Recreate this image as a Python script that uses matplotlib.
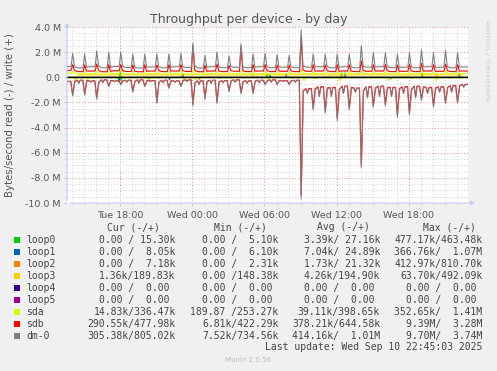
import matplotlib
matplotlib.use('Agg')
import matplotlib.pyplot as plt
from matplotlib.patches import Rectangle

# time axis in hours from Tue 00:00
T_START, T_END = 13.58, 46.92
HOURS = list(range(14, 47))
tick_pos = [18, 24, 30, 36, 42]
tick_lab = ['Tue 18:00', 'Wed 00:00', 'Wed 06:00', 'Wed 12:00', 'Wed 18:00']
ytick_pos = [4, 2, 0, -2, -4, -6, -8, -10]
ytick_lab = ['4.0 M', '2.0 M', '0.0', '-2.0 M', '-4.0 M', '-6.0 M', '-8.0 M', '-10.0 M']

# write side (MB/s), one spike a few minutes past each hour
dm0_w_peak = [1.9, 1.85, 2.1, 2.0, 2.0, 1.85, 1.85, 1.85, 1.85, 1.9, 2.7, 1.75, 2.0, 1.7, 2.65, 1.85, 1.9,
              1.8, 1.75, 3.75, 1.85, 1.85, 1.85, 1.85, 2.5, 1.95, 1.95, 1.85, 1.95, 2.2, 1.95, 2.15, 1.95]
dm0_w_a = [0.85, 0.8, 0.9, 0.78, 0.88, 0.82, 0.8, 0.86, 0.8, 0.84, 0.9, 0.78, 0.82, 0.86, 0.84, 0.78, 0.86,
           0.82, 0.85, 0.9, 0.8, 0.86, 0.78, 0.82, 0.88, 0.8, 0.86, 0.78, 0.84, 0.82, 0.78, 0.86, 0.82]
dm0_w_b = [0.75, 0.84, 0.76, 0.86, 0.78, 0.74, 0.82, 0.76, 0.84, 0.78, 0.74, 0.84, 0.76, 0.8, 0.76, 0.84, 0.76,
           0.8, 0.76, 0.8, 0.84, 0.76, 0.84, 0.76, 0.8, 0.84, 0.76, 0.8, 0.76, 0.84, 0.8, 0.76, 0.82]
sdb_w_peak = [1.0, 0.98, 1.05, 1.0, 1.02, 0.98, 1.0, 0.98, 1.0, 1.0, 2.5, 0.95, 1.05, 0.95, 2.4, 1.0, 1.02,
              0.98, 0.98, 3.28, 1.0, 0.98, 1.02, 1.0, 1.3, 1.0, 1.02, 0.98, 1.02, 1.1, 1.0, 1.05, 1.0]
sdb_w_a = [0.55, 0.5, 0.56, 0.48, 0.54, 0.5, 0.48, 0.55, 0.5, 0.52, 0.56, 0.48, 0.5, 0.54, 0.52, 0.48, 0.55,
           0.5, 0.52, 0.58, 0.5, 0.54, 0.48, 0.5, 0.55, 0.5, 0.54, 0.48, 0.52, 0.5, 0.48, 0.54, 0.5]
sdb_w_b = [0.45, 0.5, 0.44, 0.52, 0.46, 0.44, 0.5, 0.45, 0.5, 0.46, 0.44, 0.5, 0.45, 0.48, 0.45, 0.5, 0.45,
           0.48, 0.45, 0.48, 0.5, 0.45, 0.5, 0.45, 0.48, 0.5, 0.45, 0.48, 0.45, 0.5, 0.48, 0.45, 0.5]
sda_w_peak = [0.45, 0.42, 0.5, 0.44, 0.6, 0.42, 0.44, 0.42, 0.45, 0.48, 0.55, 0.42, 0.46, 0.4, 0.5, 0.44, 0.46,
              0.42, 0.44, 0.6, 0.44, 0.42, 0.5, 0.44, 0.48, 0.42, 0.46, 0.44, 0.45, 0.5, 0.42, 0.48, 0.44]
sda_w_a = [0.32, 0.3, 0.33, 0.29, 0.32, 0.3, 0.29, 0.32, 0.3, 0.31, 0.33, 0.29, 0.3, 0.32, 0.31, 0.29, 0.32,
           0.3, 0.31, 0.34, 0.3, 0.32, 0.29, 0.3, 0.32, 0.3, 0.32, 0.29, 0.31, 0.3, 0.29, 0.32, 0.3]
sda_w_b = [0.26, 0.28, 0.25, 0.29, 0.26, 0.25, 0.28, 0.26, 0.28, 0.26, 0.25, 0.28, 0.26, 0.27, 0.26, 0.28, 0.26,
           0.27, 0.26, 0.27, 0.28, 0.26, 0.28, 0.26, 0.27, 0.28, 0.26, 0.27, 0.26, 0.28, 0.27, 0.26, 0.28]
loop3_w = [0.19, 0.19, 0.18, 0.19, 0.2, 0.19, 0.19, 0.18, 0.19, 0.19, 0.2, 0.19, 0.19, 0.18, 0.19, 0.19, 0.2,
           0.19, 0.19, 0.21, 0.19, 0.18, 0.19, 0.19, 0.2, 0.19, 0.19, 0.18, 0.19, 0.19, 0.2, 0.19, 0.19]

# read side (negative)
dm0_r_dip = [-1.49, -1.41, -1.75, -0.75, -0.6, -1.2, -0.75, -2.07, -0.88, -0.75, -2.26, -1.75, -2.07, -1.15,
             -1.3, -1.3, -0.6, -0.6, -0.6, -9.7, -2.6, -2.87, -3.45, -2.6, -7.2, -2.4, -2.3, -3.2, -3.0,
             -1.86, -2.4, -2.1, -2.05]
dm0_r_a = [-0.35, -0.3, -0.4, -0.28, -0.3, -0.35, -0.3, -0.4, -0.3, -0.28, -0.45, -0.35, -0.4, -0.3, -0.35,
           -0.32, -0.3, -0.28, -0.3, -1.1, -0.95, -0.9, -1.0, -0.85, -1.1, -0.9, -0.85, -0.95, -1.0, -0.8,
           -0.9, -0.85, -0.7]
dm0_r_b = [-0.25, -0.3, -0.22, -0.3, -0.25, -0.22, -0.28, -0.25, -0.3, -0.22, -0.3, -0.25, -0.28, -0.22, -0.3,
           -0.25, -0.22, -0.28, -0.25, -0.95, -0.8, -0.85, -0.75, -0.9, -0.8, -0.75, -0.85, -0.8, -0.75,
           -0.85, -0.8, -0.7, -0.6]
dm0_r_x = [-0.5, -0.4, -0.45, -0.35, -0.4, -0.5, -0.35, -0.45, -0.4, -0.35, -0.6, -0.5, -0.45, -0.4, -0.5,
           -0.45, -0.4, -0.35, -0.4, -1.3, -1.55, -1.55, -1.3, -1.2, -1.65, -1.55, -1.55, -1.3, -1.65, -1.3,
           -1.2, -1.2, -0.8]
sdb_r_dip = [-1.4, -1.35, -1.65, -0.7, -0.55, -1.12, -0.7, -1.95, -0.82, -0.7, -2.15, -1.65, -1.95, -1.08,
             -1.22, -1.22, -0.55, -0.55, -0.55, -9.4, -2.45, -2.7, -3.25, -2.45, -7.0, -2.25, -2.15, -3.0,
             -2.85, -1.75, -2.25, -2.0, -1.95]
sdb_r_a = [-0.32, -0.27, -0.37, -0.26, -0.28, -0.32, -0.27, -0.37, -0.28, -0.26, -0.42, -0.32, -0.37, -0.28,
           -0.32, -0.3, -0.28, -0.26, -0.28, -1.05, -0.9, -0.85, -0.95, -0.8, -1.05, -0.85, -0.8, -0.9, -0.95,
           -0.75, -0.85, -0.8, -0.66]
sdb_r_b = [-0.23, -0.28, -0.2, -0.28, -0.23, -0.2, -0.26, -0.23, -0.28, -0.2, -0.28, -0.23, -0.26, -0.2,
           -0.28, -0.23, -0.2, -0.26, -0.23, -0.9, -0.75, -0.8, -0.7, -0.85, -0.75, -0.7, -0.8, -0.75, -0.7,
           -0.8, -0.75, -0.66, -0.56]
sdb_r_x = [-0.45, -0.37, -0.41, -0.32, -0.37, -0.45, -0.32, -0.41, -0.37, -0.32, -0.55, -0.45, -0.41, -0.37,
           -0.45, -0.41, -0.37, -0.32, -0.37, -1.25, -1.48, -1.48, -1.25, -1.15, -1.58, -1.48, -1.48, -1.25,
           -1.58, -1.25, -1.15, -1.15, -0.76]
sda_r = [-0.3, -0.25, -0.05, -0.05, -0.1, -0.05, -0.2, -0.05, -0.05, -0.3, -0.25, -0.05, -0.05, -0.1, -0.05,
         -0.05, -0.2, -0.05, -0.1, -0.3, -0.1, -0.05, -0.3, -0.05, -0.1, -0.05, -0.25, -0.05, -0.1, -0.05,
         -0.3, -0.05, -0.1]

# occasional blips on the loop devices
loop0_t = [18.0, 18.08, 30.2, 36.4, 43.1]
loop0_v = [0.45, -0.3, 0.3, 0.35, 0.3]
loop1_t = [17.9, 22.1, 23.2, 30.45, 31.8, 36.7, 46.2]
loop1_v = [-0.35, -0.2, 0.3, 0.25, 0.3, 0.35, 0.3]
loop2_t = [20.4, 24.6, 29.0, 34.2, 40.5, 44.3]
loop2_v = [-0.15, -0.2, 0.15, -0.1, -0.15, 0.2]

names = ['loop0', 'loop1', 'loop2', 'loop3', 'loop4', 'loop5', 'sda', 'sdb', 'dm-0']
colors = ['#00CC00', '#0066B3', '#FF8000', '#FFCC00', '#330099', '#990099', '#CCFF00', '#FF0000', '#808080']
cur = ['0.00 / 15.30k', '0.00 /  8.05k', '0.00 /  7.18k', '1.36k/189.83k', '0.00 /  0.00 ', '0.00 /  0.00 ',
       '14.83k/336.47k', '290.55k/477.98k', '305.38k/805.02k']
mins = ['0.00 /  5.10k', '0.00 /  6.10k', '0.00 /  2.31k', '0.00 /148.38k', '0.00 /  0.00 ', '0.00 /  0.00 ',
        '189.87 /253.27k', '6.81k/422.29k', '7.52k/734.56k']
avgs = ['3.39k/ 27.16k', '7.04k/ 24.89k', '1.73k/ 21.32k', '4.26k/194.90k', '0.00 /  0.00 ', '0.00 /  0.00 ',
        '39.11k/398.65k', '378.21k/644.58k', '414.16k/  1.01M']
maxs = ['477.17k/463.48k', '366.76k/  1.07M', '412.97k/810.70k', '63.70k/492.09k', '0.00 /  0.00 ',
        '0.00 /  0.00 ', '352.65k/  1.41M', '9.39M/  3.28M', '9.70M/  3.74M']


def hourly(peak, base_a, base_b, extra=None, w0=0.08, w1=0.2):
    t, v = [T_START], [base_a[0]]
    prev = base_a[0]
    for i, h in enumerate(HOURS):
        t += [h - w0, h + 0.05, h + w1, h + 0.45]
        v += [prev, peak[i], base_a[i], base_b[i]]
        if extra is not None:
            t += [h + 0.56, h + 0.68]
            v += [extra[i], base_b[i]]
        prev = base_b[i]
    t.append(T_END)
    v.append(prev)
    return t, v


def blips(times, vals, base=0.0):
    t, v = [T_START], [base]
    for tt, vv in zip(times, vals):
        t += [tt - 0.07, tt, tt + 0.07]
        v += [base, vv, base]
    t.append(T_END)
    v.append(base)
    return t, v


W, H = 497, 371
fig = plt.figure(figsize=(W / 100, H / 100), dpi=100, facecolor='#F0F0F0')
ax = fig.add_axes([67 / W, 1 - 203 / H, 401 / W, 176 / H])
ax.set_facecolor('white')

# grid
for h in range(14, 47):
    major = h in tick_pos
    ax.axvline(h, color='#E89090' if major else '#D0D0D0', lw=0.7, ls=(0, (1, 2)), zorder=0)
for k in range(-19, 9):
    major = (k % 4 == 0)
    ax.axhline(k * 0.5, color='#E89090' if major else '#D0D0D0', lw=0.7, ls=(0, (1, 2)), zorder=0)

lw = 0.8
t, v = blips(loop0_t, loop0_v)
ax.plot(t, v, color=colors[0], lw=lw)
t, v = blips(loop1_t, loop1_v)
ax.plot(t, v, color=colors[1], lw=lw)
t, v = blips(loop2_t, loop2_v)
ax.plot(t, v, color=colors[2], lw=lw)
ax.plot([h + 0.5 for h in HOURS], loop3_w, color=colors[3], lw=lw)
t, v = blips([h + 0.3 for h in HOURS], sda_r, base=-0.03)
ax.plot(t, v, color=colors[6], lw=lw)
t, v = hourly(sda_w_peak, sda_w_a, sda_w_b)
ax.plot(t, v, color=colors[6], lw=lw)
t, v = hourly(sdb_w_peak, sdb_w_a, sdb_w_b)
ax.plot(t, v, color=colors[7], lw=lw)
t, v = hourly(sdb_r_dip, sdb_r_a, sdb_r_b, sdb_r_x, 0.1, 0.22)
ax.plot(t, v, color=colors[7], lw=lw)
t, v = hourly(dm0_w_peak, dm0_w_a, dm0_w_b)
ax.plot(t, v, color=colors[8], lw=lw)
t, v = hourly(dm0_r_dip, dm0_r_a, dm0_r_b, dm0_r_x, 0.12, 0.24)
ax.plot(t, v, color=colors[8], lw=lw, alpha=0.85)
ax.axhline(0, color='black', lw=1.0)

ax.set_xlim(T_START, T_END)
ax.set_ylim(-10, 4)
for s in ax.spines.values():
    s.set_visible(False)
ax.set_xticks(tick_pos)
ax.set_xticklabels(tick_lab)
ax.set_xticks(HOURS, minor=True)
ax.set_yticks(ytick_pos)
ax.set_yticklabels(ytick_lab)
ax.set_yticks([k * 0.5 for k in range(-20, 9)], minor=True)
ax.tick_params(axis='both', which='major', labelsize=6.8, labelcolor='#555555', color='#B8B8D8',
               length=2, width=0.6, pad=2.5)
ax.tick_params(axis='both', which='minor', color='#C8C8E0', length=1.2, width=0.5)
ax.tick_params(axis='x', which='major', pad=4)

axis_col = '#C4CCF4'
ax.annotate('', xy=(0, 1.04), xytext=(0, 0), xycoords='axes fraction',
            arrowprops=dict(arrowstyle='-|>', color=axis_col, lw=0.8, mutation_scale=6))
ax.annotate('', xy=(1.025, 0), xytext=(0, 0), xycoords='axes fraction',
            arrowprops=dict(arrowstyle='-|>', color=axis_col, lw=0.8, mutation_scale=6))


def ftext(x, y, s, **kw):
    fig.text(x / W, 1 - y / H, s, **kw)


ftext(248.5, 19, 'Throughput per device - by day', ha='center', va='center', fontsize=9, color='#555555')
ftext(10, 115, 'Bytes/second read (-) / write (+)', ha='center', va='center', rotation=90,
      fontsize=7.3, color='#555555')
ftext(487, 20, 'RRDTOOL / TOBI OETIKER', ha='center', va='top', rotation=270, fontsize=4.6, color='#C8C8C8')

mono = dict(family='DejaVu Sans Mono', fontsize=7, color='#444444', va='center')
ftext(133.5, 227.3, 'Cur (-/+)', ha='center', **mono)
ftext(240, 227.3, 'Min (-/+)', ha='center', **mono)
ftext(343.5, 227.3, 'Avg (-/+)', ha='center', **mono)
ftext(449.5, 227.3, 'Max (-/+)', ha='center', **mono)
for i, name in enumerate(names):
    y = 240 + 12 * i
    fig.patches.append(Rectangle((14 / W, 1 - (y + 3) / H), 6 / W, 6 / H, transform=fig.transFigure,
                                 facecolor=colors[i], edgecolor='none'))
    ftext(26, y, name, ha='left', **mono)
    ftext(175.7, y, cur[i], ha='right', **mono)
    ftext(278.3, y, mins[i], ha='right', **mono)
    ftext(380, y, avgs[i], ha='right', **mono)
    ftext(482.3, y, maxs[i], ha='right', **mono)
ftext(482.3, 347.5, 'Last update: Wed Sep 10 22:45:03 2025', ha='right', **mono)
ftext(248, 360, 'Munin 2.0.56', ha='center', va='center', fontsize=5, color='#BBBBBB')

fig.savefig('out.png', dpi=100, facecolor=fig.get_facecolor())
